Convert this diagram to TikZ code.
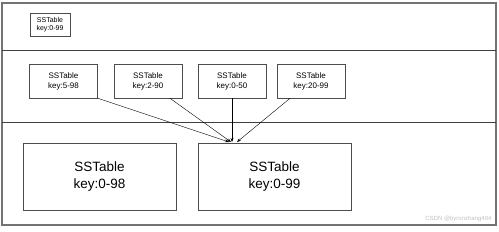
\documentclass[tikz,border=0pt]{standalone}
\usepackage{fontspec}
\setmainfont{Liberation Sans}
\usetikzlibrary{arrows.meta,positioning}

\tikzset{
    table/.style={draw=black!70, line width=0.6pt, align=center, inner sep=0pt},
    small/.style={table, minimum width=68pt, minimum height=34pt, font=\fontsize{8}{10}\selectfont},
    big/.style={table, minimum width=153pt, minimum height=67pt, font=\fontsize{13.5}{17}\selectfont},
    arr/.style={-{Stealth[length=4pt,width=3pt]}, line width=0.4pt}
}

\begin{document}
\begin{tikzpicture}[x=1pt,y=-1pt]
    \useasboundingbox (0,0) rectangle (499,231);

    % levels
    \draw[black!55, line width=1.4pt] (2,3) rectangle (496,225);
    \draw[black!75, line width=1pt] (2,50) -- (496,50);
    \draw[black!75, line width=1pt] (2,122) -- (496,122);

    % level 0
    \node[table, minimum width=40pt, minimum height=23pt, font=\fontsize{7}{8.5}\selectfont] (l0) at (50,24.5) {SSTable\\key:0-99};

    % level 1
    \node[small] (l1a) at (63.5,81) {SSTable\\key:5-98};
    \node[small] (l1b) at (148,81) {SSTable\\key:2-90};
    \node[small] (l1c) at (232,81) {SSTable\\key:0-50};
    \node[small] (l1d) at (311,81) {SSTable\\key:20-99};

    % level 2
    \node[big] (l2a) at (99.5,176.5) {SSTable\\key:0-98};
    \node[big] (l2b) at (274.5,176.5) {SSTable\\key:0-99};

    % merge
    \coordinate (merge) at (232,142);
    \draw[arr] (l1a.south east) -- ([xshift=-3pt]merge);
    \draw[arr] ([xshift=22pt]l1b.south) -- ([xshift=-1pt]merge);
    \draw[arr] (l1c.south) -- (merge);
    \draw[arr] ([xshift=-21pt]l1d.south) -- ([xshift=5pt]merge);

    \node[black!25, font=\fontsize{6}{7}\selectfont, anchor=east] (mark) at (495,219) {CSDN @byronzhang404};
\end{tikzpicture}
\end{document}
